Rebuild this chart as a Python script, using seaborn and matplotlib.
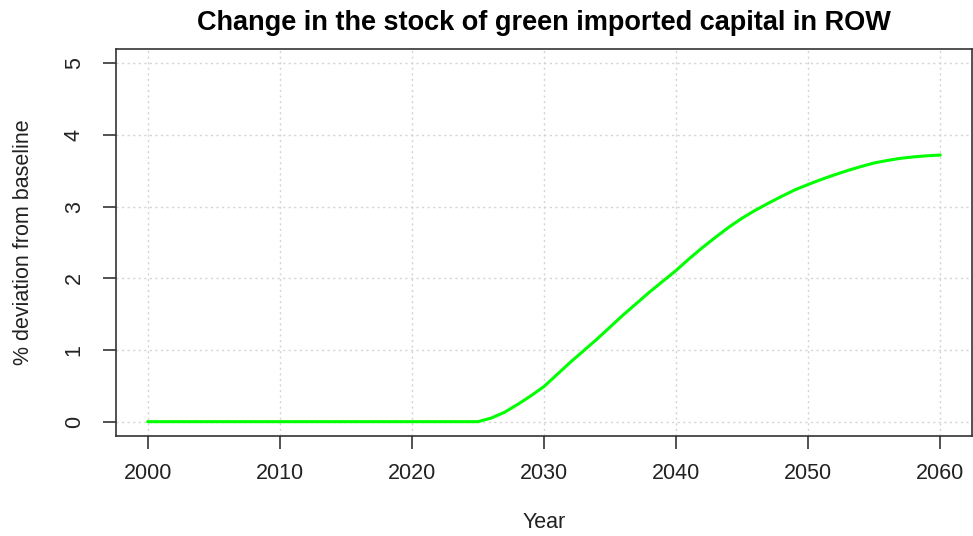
import matplotlib
matplotlib.use('Agg')
import matplotlib.pyplot as plt
import seaborn as sns
import pandas as pd
import numpy as np

# values (annual)
years = list(range(2000, 2061))
flat_part = [0.0] * 26  # 2000-2025
rise_part = [0.05, 0.13, 0.24, 0.36, 0.49, 0.66, 0.83, 0.99, 1.15, 1.32,
             1.49, 1.65, 1.81, 1.96, 2.11, 2.275, 2.43, 2.575, 2.715, 2.84,
             2.95, 3.05, 3.145, 3.235, 3.31, 3.38, 3.445, 3.505, 3.56, 3.61,
             3.645, 3.675, 3.695, 3.71, 3.72]
deviation = flat_part + rise_part

x_ticks = [2000, 2010, 2020, 2030, 2040, 2050, 2060]
y_ticks = [0, 1, 2, 3, 4, 5]

TITLE = 'Change in the stock of green imported capital in ROW'
XLABEL = 'Year'
YLABEL = '% deviation from baseline'

df = pd.DataFrame({'year': years, 'dev': deviation})

sns.set_style('white')
plt.rcParams['font.family'] = ['Liberation Sans', 'DejaVu Sans']

fig = plt.figure(figsize=(9.73, 5.36), dpi=100)
ax = fig.add_axes([116 / 973, 1 - 436 / 536, (972 - 116) / 973, (436 - 49) / 536])

# R style dotted grid
for xv in x_ticks:
    ax.axvline(xv, color='#d3d3d3', linestyle=(0, (1.5, 2.5)), linewidth=1.0, zorder=0)
for yv in y_ticks:
    ax.axhline(yv, color='#d3d3d3', linestyle=(0, (1.5, 2.5)), linewidth=1.0, zorder=0)

sns.lineplot(data=df, x='year', y='dev', color='#00ff00', linewidth=2.2, ax=ax)

ax.set_xlim(1997.6, 2062.4)
ax.set_ylim(-0.2, 5.2)
ax.set_xticks(x_ticks)
ax.set_yticks(y_ticks)
ax.set_xticklabels([str(v) for v in x_ticks], fontsize=15.5)
ax.set_yticklabels([str(v) for v in y_ticks], fontsize=15.5, rotation=90, va='center')
ax.tick_params(axis='both', direction='out', length=9.5, width=1.2, color='#333333',
               labelcolor='#222222', bottom=True, left=True)
ax.tick_params(axis='x', pad=10)
ax.tick_params(axis='y', pad=13)

for sp in ax.spines.values():
    sp.set_color('#333333')
    sp.set_linewidth(1.2)

ax.set_xlabel(XLABEL, fontsize=15.5, color='#222222')
ax.set_ylabel(YLABEL, fontsize=15.5, color='#222222')
ax.xaxis.set_label_coords((544 - 116) / (972 - 116), -(512 - 436) / (436 - 49))
ax.yaxis.set_label_coords(-(116 - 34) / (972 - 116), 0.5)

fig.text(544 / 973, 1 - 23 / 536, TITLE, ha='center', va='center',
         fontsize=19.5, fontweight='bold', color='black')

fig.savefig('out.png', dpi=100)
